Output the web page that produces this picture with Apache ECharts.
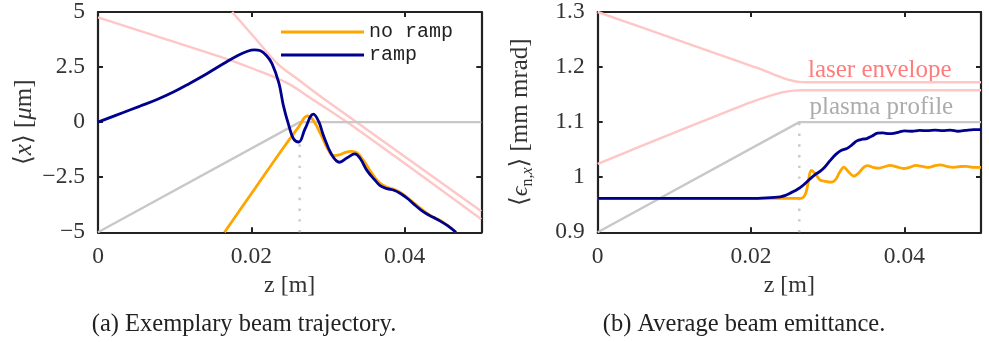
<!DOCTYPE html>
<html>
<head>
<meta charset="utf-8">
<script src="https://cdn.jsdelivr.net/npm/echarts@6/dist/echarts.min.js"></script>
<style>
  html, body { margin: 0; padding: 0; background: #fff; }
  #chart { width: 989px; height: 342px; }
</style>
</head>
<body>
<div id="chart"></div>
<script>
// ---------- (a) beam centroid trajectory <x>(z) in µm ----------
const trajRamp = [
  [0, 0], [0.0033, 0.44], [0.0055, 0.73], [0.0077, 1.03], [0.0099, 1.38], [0.012, 1.77],
  [0.0142, 2.2], [0.0164, 2.66], [0.0183, 3.04], [0.0195, 3.22], [0.0204, 3.28],
  [0.0212, 3.24], [0.0219, 3.05], [0.0227, 2.66], [0.0236, 1.77], [0.0242, 0.73],
  [0.0249, -0.16], [0.0255, -0.75], [0.0262, -0.9], [0.0270, -0.31], [0.0281, 0.36],
  [0.0288, 0.02], [0.0294, -0.6], [0.0305, -1.49], [0.0315, -1.82], [0.0325, -1.62],
  [0.0335, -1.44], [0.0342, -1.65], [0.0351, -2.2], [0.0361, -2.62], [0.0368, -2.88],
  [0.0377, -3.02], [0.0386, -3.09], [0.0395, -3.25], [0.0405, -3.5], [0.0412, -3.72],
  [0.0421, -3.98], [0.0429, -4.17], [0.0438, -4.33], [0.0446, -4.48], [0.0456, -4.7],
  [0.0467, -5.0]
];
const trajNoRamp = [
  [0.0165, -5], [0.0205, -3.0], [0.024, -1.25], [0.0262, -0.2], [0.0273, 0.28],
  [0.0280, 0.12], [0.0287, -0.3], [0.0294, -0.8], [0.0301, -1.3], [0.0308, -1.52],
  [0.0316, -1.47], [0.0324, -1.36], [0.0331, -1.33], [0.0338, -1.4], [0.0346, -1.72],
  [0.0356, -2.25], [0.0366, -2.72], [0.0376, -2.95], [0.0386, -3.05], [0.0396, -3.22],
  [0.0406, -3.5], [0.0414, -3.72], [0.0425, -4.03], [0.0435, -4.27], [0.0446, -4.45],
  [0.0456, -4.68], [0.0467, -5.0]
];
const envelopeA = [
  [0, 4.76], [0.009, 3.75], [0.016, 2.96], [0.0205, 2.39], [0.0247, 1.77],
  [0.0277, 1.10], [0.0329, -0.10], [0.05, -4.41]
];
const envelopeB = [
  [0.0175, 5.0], [0.0205, 3.81], [0.0234, 2.66], [0.0264, 1.86], [0.029, 1.18], [0.05, -4.04]
];
const plasmaA = [[0, -5], [0.0263, 0], [0.05, 0]];
const rampEndA = [[0.0263, -5], [0.0263, -1.0]];

// ---------- (b) average normalised emittance in mm mrad ----------
const emitRamp = [
  [0, 0.9615], [0.02, 0.9615], [0.022, 0.9625], [0.0238, 0.9645], [0.0245, 0.967],
  [0.0251, 0.971], [0.0258, 0.976], [0.0264, 0.981], [0.0270, 0.988], [0.0277, 0.997],
  [0.0284, 1.005], [0.0290, 1.0105], [0.0296, 1.018], [0.0303, 1.03], [0.0311, 1.042],
  [0.0318, 1.049], [0.0325, 1.052], [0.0331, 1.058], [0.0338, 1.066], [0.0345, 1.069],
  [0.0351, 1.070], [0.0358, 1.075], [0.0365, 1.080], [0.0372, 1.0805], [0.0380, 1.079],
  [0.0386, 1.0795], [0.0393, 1.082], [0.0400, 1.084], [0.0410, 1.0835], [0.0420, 1.085],
  [0.0430, 1.0845], [0.0440, 1.0855], [0.0450, 1.0845], [0.0460, 1.0855], [0.0470, 1.0835],
  [0.0480, 1.085], [0.0490, 1.0865], [0.0500, 1.0865]
];
const emitNoRamp = [
  [0, 0.9615], [0.0265, 0.9615], [0.0279, 1.0125], [0.0285, 1.004], [0.0290, 0.995],
  [0.0297, 0.9925], [0.0305, 0.991], [0.0310, 0.995], [0.0316, 1.01], [0.0321, 1.0185],
  [0.0327, 1.01], [0.0334, 1.002], [0.0340, 1.007], [0.0347, 1.018], [0.0352, 1.021],
  [0.0359, 1.018], [0.0366, 1.0165], [0.0374, 1.019], [0.0381, 1.0215], [0.0390, 1.019],
  [0.0399, 1.0158], [0.0407, 1.018], [0.0415, 1.0215], [0.0424, 1.0195], [0.0432, 1.018],
  [0.0440, 1.021], [0.0447, 1.0225], [0.0456, 1.0195], [0.0464, 1.018], [0.0473, 1.0195],
  [0.0481, 1.0198], [0.0490, 1.018], [0.0500, 1.018]
];
const envelopeUpperB = [
  [0, 1.3], [0.005, 1.2756], [0.01, 1.2512], [0.015, 1.2268], [0.018, 1.2122],
  [0.020, 1.2023], [0.0215, 1.195], [0.023, 1.1865], [0.0243, 1.1795], [0.0254, 1.1752],
  [0.0263, 1.1731], [0.0272, 1.1725], [0.03, 1.1725], [0.04, 1.1725], [0.05, 1.1725]
];
const envelopeLowerB = [
  [0, 1.0244], [0.005, 1.0527], [0.01, 1.081], [0.015, 1.1088], [0.019, 1.131],
  [0.0215, 1.1435], [0.0232, 1.151], [0.0246, 1.1555], [0.0257, 1.1573], [0.0266, 1.1578],
  [0.03, 1.1578], [0.04, 1.1578], [0.05, 1.1578]
];
const plasmaB = [[0, 0.9], [0.0263, 1.1], [0.05, 1.1]];
const rampEndB = [[0.0263, 0.9], [0.0263, 1.1]];
const annotationsB = [
  { text: 'laser envelope', at: [0.0368, 1.194], color: '#ff5b5b' },
  { text: 'plasma profile', at: [0.0370, 1.126], color: '#979797' }
];

// ---------- axes & ticks ----------
const zRange = [0, 0.05], zStep = 0.02;
const xRangeA = [-5, 5], xStepA = 2.5;
const emitRangeB = [0.9, 1.3], emitStepB = 0.1;
const captions = ['(a) Exemplary beam trajectory.', '(b) Average beam emittance.'];
const legendNames = ['no ramp', 'ramp'];

// ---------- styling ----------
const SERIF = "'Liberation Serif', 'DejaVu Serif', serif";
const MONO = "'Liberation Mono', 'DejaVu Sans Mono', monospace";
const FRAME = '#222';
const C_RAMP = '#00008f', C_NORAMP = '#ffa500', C_LASER = '#ffc6c6', C_PLASMA = '#c8c8c8';
const minus = s => s.replace('-', '\u2212');
const fmtZ = v => (v === 0 ? '0' : v.toFixed(2));
const fmtA = v => minus(String(+v.toFixed(1)));
const fmtB = v => String(+v.toFixed(1));

const grids = [
  { left: 98, top: 7.3, width: 383.3, height: 225 },
  { left: 597.7, top: 7.3, width: 383.3, height: 225 }
];

const lineFrame = { show: true, onZero: false, lineStyle: { color: FRAME, width: 2.2 } };
const tickIn = { show: true, inside: true, length: 5, lineStyle: { color: FRAME, width: 2 } };
const labelStyle = { color: '#333', fontFamily: SERIF, fontSize: 23.5 };

function xAxes(gi) {
  return [
    {
      gridIndex: gi, type: 'value', min: zRange[0], max: zRange[1], interval: zStep,
      position: 'bottom', axisLine: lineFrame, axisTick: tickIn, splitLine: { show: false },
      axisLabel: Object.assign({ margin: 13, formatter: fmtZ, showMaxLabel: false }, labelStyle),
      name: 'z [m]', nameLocation: 'middle', nameGap: 37,
      nameTextStyle: { color: '#333', fontFamily: SERIF, fontSize: 24 }
    },
    {
      gridIndex: gi, type: 'value', min: zRange[0], max: zRange[1], interval: zStep,
      position: 'top', axisLine: lineFrame, axisTick: tickIn, splitLine: { show: false },
      axisLabel: { show: false }
    }
  ];
}
function yAxes(gi, range, step, fmt, name, gap, rich) {
  return [
    {
      gridIndex: gi, type: 'value', min: range[0], max: range[1], interval: step,
      position: 'left', axisLine: lineFrame, axisTick: tickIn, splitLine: { show: false },
      axisLabel: Object.assign({ margin: 13, formatter: fmt }, labelStyle),
      name: name, nameLocation: 'middle', nameRotate: 90, nameGap: gap,
      nameTextStyle: { color: '#333', fontFamily: SERIF, fontSize: 25, rich: rich }
    },
    {
      gridIndex: gi, type: 'value', min: range[0], max: range[1], interval: step,
      position: 'right', axisLine: lineFrame, axisTick: tickIn, splitLine: { show: false },
      axisLabel: { show: false }
    }
  ];
}

const richA = {
  it: { fontStyle: 'italic', fontFamily: SERIF, fontSize: 25, color: '#333' }
};
const richB = {
  it: { fontStyle: 'italic', fontFamily: SERIF, fontSize: 24, color: '#333' },
  sub: { fontFamily: SERIF, fontSize: 16, color: '#333', padding: [14, 0, 0, 0] },
  subit: { fontStyle: 'italic', fontFamily: SERIF, fontSize: 16, color: '#333', padding: [14, 0, 0, 0] }
};

function line(name, data, xi, yi, color, width, extra) {
  return Object.assign({
    name: name, type: 'line', data: data, xAxisIndex: xi, yAxisIndex: yi,
    symbol: 'none', silent: true, clip: true,
    lineStyle: { color: color, width: width }, itemStyle: { color: color }
  }, extra || {});
}
const dotted = { color: C_PLASMA, width: 2.4, type: [2.4, 8.3] };

const series = [
  // (a)
  line('envA', envelopeA, 0, 0, C_LASER, 2.4, { smooth: 0.35 }),
  line('envB', envelopeB, 0, 0, C_LASER, 2.4, { smooth: 0.35 }),
  line('plasmaA', plasmaA, 0, 0, C_PLASMA, 2.4),
  line('rampEndA', rampEndA, 0, 0, C_PLASMA, 2.4, { lineStyle: dotted }),
  line('no ramp', trajNoRamp, 0, 0, C_NORAMP, 2.8, { smooth: 0.4 }),
  line('ramp', trajRamp, 0, 0, C_RAMP, 2.8, { smooth: 0.4 }),
  // (b)
  line('envUpB', envelopeUpperB, 2, 2, C_LASER, 2.4, { smooth: 0.4 }),
  line('envLowB', envelopeLowerB, 2, 2, C_LASER, 2.4, { smooth: 0.4 }),
  line('plasmaB', plasmaB, 2, 2, C_PLASMA, 2.4),
  line('rampEndB', rampEndB, 2, 2, C_PLASMA, 2.4, { lineStyle: dotted }),
  line('no ramp', emitNoRamp, 2, 2, C_NORAMP, 2.8, { smooth: 0.3 }),
  line('ramp', emitRamp, 2, 2, C_RAMP, 2.8, { smooth: 0.3 }),
  {
    name: 'labelsB', type: 'scatter', xAxisIndex: 2, yAxisIndex: 2, silent: true,
    symbolSize: 1, itemStyle: { color: 'rgba(0,0,0,0)' },
    data: annotationsB.map(a => ({
      value: a.at,
      label: {
        show: true, position: 'inside', formatter: a.text,
        color: a.color, fontFamily: SERIF, fontSize: 25
      }
    }))
  }
];

const chart = echarts.init(document.getElementById('chart'), null, { renderer: 'canvas' });
chart.setOption({
  animation: false,
  backgroundColor: '#fff',
  grid: grids,
  xAxis: xAxes(0).concat(xAxes(1)),
  yAxis: yAxes(0, xRangeA, xStepA, fmtA, '\u27E8{it|x}\u27E9 [{it|\u03BC}m]', 61, richA)
    .concat(yAxes(1, emitRangeB, emitStepB, fmtB,
      '\u27E8{it|\u03F5}{sub|n,}{subit|x}\u27E9 [mm mrad]', 62, richB)),
  legend: {
    data: legendNames.map(n => ({ name: n, icon: 'rect' })),
    orient: 'vertical', left: 276, top: 17,
    itemWidth: 83, itemHeight: 2.8, itemGap: 3, selectedMode: false,
    textStyle: { fontFamily: MONO, fontSize: 20, color: '#222' }
  },
  graphic: [
    {
      type: 'text', x: 244, y: 325,
      style: { text: captions[0], fill: '#222', font: "24.5px " + SERIF, textAlign: 'center', textVerticalAlign: 'middle' }
    },
    {
      type: 'text', x: 744, y: 325,
      style: { text: captions[1], fill: '#222', font: "24.5px " + SERIF, textAlign: 'center', textVerticalAlign: 'middle' }
    }
  ],
  series: series
});
</script>
</body>
</html>
